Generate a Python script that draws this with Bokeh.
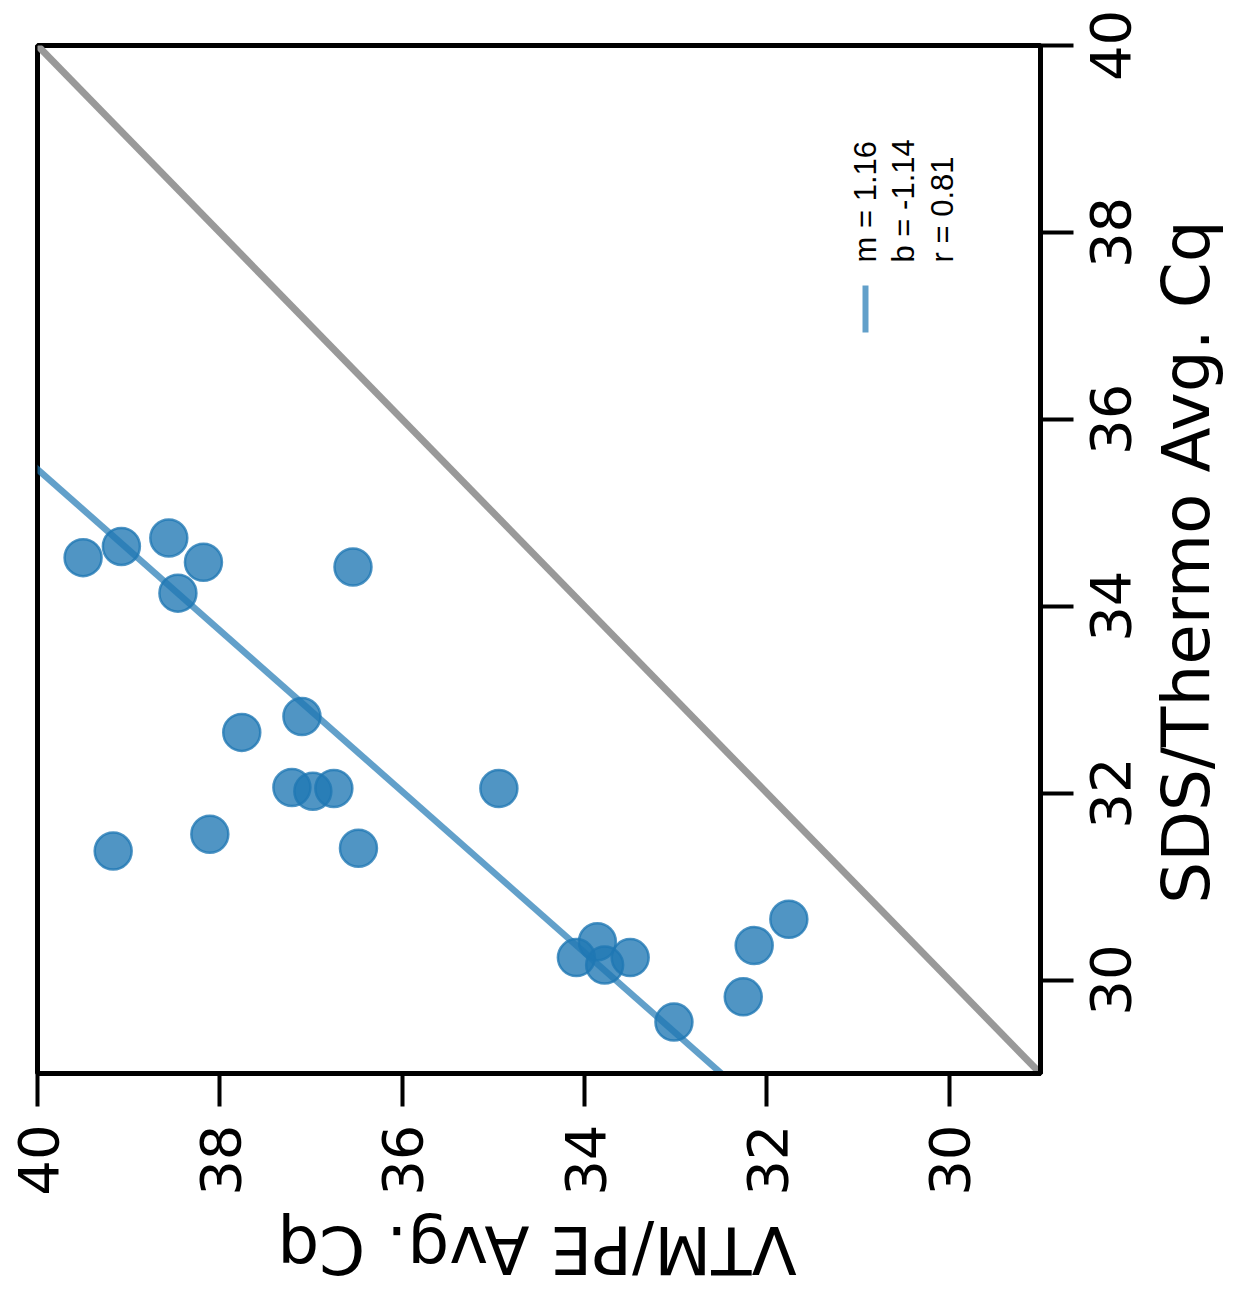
from math import pi
from bokeh.plotting import figure
from bokeh.models import Range1d, FixedTicker, Label, LinearAxis
from bokeh.embed import file_html
from bokeh.resources import INLINE

# ---- data ----
vtm_pe = [39.50, 39.08, 38.56, 38.18, 38.46, 36.54, 37.10, 37.76, 37.21, 36.98,
          36.75, 34.94, 38.11, 39.17, 36.48, 33.86, 34.09, 33.78, 33.50, 31.76,
          32.14, 32.26, 33.02]
sds_thermo = [34.52, 34.64, 34.73, 34.47, 34.14, 34.42, 32.82, 32.65, 32.06, 32.02,
              32.05, 32.05, 31.56, 31.38, 31.41, 30.41, 30.24, 30.16, 30.24, 30.65,
              30.37, 29.82, 29.55]
fit_m = 1.16
fit_b = -1.14
fit_r = 0.81
ticks = [30, 32, 34, 36, 38, 40]
tick_labels = [str(t) for t in ticks]
x_label = "VTM/PE Avg. Cq"
y_label = "SDS/Thermo Avg. Cq"
axis_min, axis_max = 29, 40

BLUE = "#1f77b4"
FONT = "DejaVu Sans"
TICK_FS = 56
TITLE_FS = 66

FRAME_L, FRAME_T, FRAME_W, FRAME_H = 37, 45, 1003, 1028

p = figure(frame_width=FRAME_W, frame_height=FRAME_H,
           x_range=Range1d(axis_max, axis_min), y_range=Range1d(axis_min, axis_max),
           y_axis_location="right", output_backend="svg", toolbar_location=None,
           min_border_left=FRAME_L, min_border_top=FRAME_T,
           min_border_right=1238 - FRAME_L - FRAME_W,
           min_border_bottom=1289 - FRAME_T - FRAME_H,
           background_fill_color="white", border_fill_color="white")
p.grid.visible = False
p.outline_line_color = "black"
p.outline_line_width = 5
p.outline_line_alpha = 1

sx = FRAME_W / (axis_max - axis_min)
sy = FRAME_H / (axis_max - axis_min)

def px_to_x(px):
    return axis_max - (px - FRAME_L) / sx

def py_to_y(py):
    return axis_max - (py - FRAME_T) / sy

# approximate DejaVu Sans advance widths (em) used to centre rotated texts
ADV = {"0": .636, "1": .636, "2": .636, "3": .636, "4": .636, "5": .636, "6": .636,
       "7": .636, "8": .636, "9": .636, "S": .635, "D": .770, "/": .337, "T": .611,
       "h": .634, "e": .615, "r": .411, "m": .974, "o": .612, " ": .318, "A": .684,
       "v": .592, "g": .635, ".": .318, "C": .698, "q": .635, "V": .684, "M": .863,
       "P": .603, "E": .632}

def text_len(s, fs):
    return sum(ADV.get(c, .6) for c in s) * fs

def style_axis(ax):
    ax.axis_line_width = 5
    ax.axis_line_color = "black"
    ax.major_tick_line_width = 4
    ax.major_tick_line_color = "black"
    ax.major_tick_in = 0
    ax.major_tick_out = 33
    ax.minor_tick_line_color = None
    ax.major_label_text_font = FONT
    ax.major_label_text_color = "black"

# ---- bottom: ticks + tick labels (reading bottom-to-top)
xa = p.xaxis[0]
style_axis(xa)
xa.ticker = FixedTicker(ticks=ticks)
xa.major_label_text_font_size = f"{TICK_FS}px"
xa.major_label_orientation = pi / 2
xa.major_label_standoff = 18

# ---- bottom title (upside down), carried by a label-only axis
x_anchor = round(px_to_x(FRAME_L + FRAME_W / 2 - text_len(x_label, TITLE_FS) / 2), 4)
xt = LinearAxis(ticker=FixedTicker(ticks=[x_anchor]),
                major_label_overrides={x_anchor: x_label},
                major_label_orientation=pi, major_label_standoff=51,
                major_tick_out=0, major_tick_in=0, major_tick_line_color=None,
                minor_tick_line_color=None, axis_line_color=None,
                major_label_text_font=FONT, major_label_text_font_size=f"{TITLE_FS}px",
                major_label_text_color="black")
p.add_layout(xt, "below")

# ---- right: tick marks on the main axis (as minor ticks, no labels)
ya = p.yaxis[0]
style_axis(ya)
ya.ticker = FixedTicker(ticks=[], minor_ticks=ticks)
ya.minor_tick_line_color = "black"
ya.minor_tick_line_width = 4
ya.minor_tick_in = 0
ya.minor_tick_out = 33
ya.major_label_standoff = 0

# right tick labels (reading bottom-to-top), shifted so that each is centred on its tick
half = text_len("40", TICK_FS) / 2 / sy
lab_pos = [round(t - half, 4) for t in ticks]
yl = LinearAxis(ticker=FixedTicker(ticks=lab_pos),
                major_label_overrides={lp: lab for lp, lab in zip(lab_pos, tick_labels)},
                major_label_orientation=pi / 2, major_label_standoff=37,
                major_tick_out=0, major_tick_in=0, major_tick_line_color=None,
                minor_tick_line_color=None, axis_line_color=None,
                major_label_text_font=FONT, major_label_text_font_size=f"{TICK_FS}px",
                major_label_text_color="black")
p.add_layout(yl, "right")

# right title
y_anchor = round(py_to_y(FRAME_T + FRAME_H / 2) - text_len(y_label, TITLE_FS) / 2 / sy, 4)
yt = LinearAxis(ticker=FixedTicker(ticks=[y_anchor]),
                major_label_overrides={y_anchor: y_label},
                major_label_orientation=pi / 2, major_label_standoff=33,
                major_tick_out=0, major_tick_in=0, major_tick_line_color=None,
                minor_tick_line_color=None, axis_line_color=None,
                major_label_text_font=FONT, major_label_text_font_size=f"{TITLE_FS}px",
                major_label_text_color="black")
p.add_layout(yt, "right")

# identity line
p.line([axis_min, axis_max], [axis_min, axis_max], line_color="#999999", line_width=7)

# points
p.scatter(vtm_pe, sds_thermo, size=37, fill_color=BLUE, fill_alpha=0.78,
          line_color=BLUE, line_alpha=0.78, line_width=2.5)

# regression line: VTM = m * SDS + b
s_ends = [axis_min - 1, axis_max + 1]
p.line([fit_m * s + fit_b for s in s_ends], s_ends, line_color=BLUE, line_alpha=0.7,
       line_width=6.5)

# legend (rotated)
p.line([px_to_x(865), px_to_x(865)], [py_to_y(285), py_to_y(332)],
       line_color=BLUE, line_alpha=0.7, line_width=6)
legend_lines = [f"m = {fit_m:.2f}", f"b = {fit_b:.2f}", f"r = {fit_r:.2f}"]
for txt, px in zip(legend_lines, [865, 903, 942]):
    p.add_layout(Label(x=px_to_x(px), y=py_to_y(262), text=txt, angle=pi / 2,
                       text_align="left", text_baseline="middle",
                       text_font="Liberation Sans", text_font_size="31px",
                       text_color="black"))

open("out.html", "w").write(file_html(p, INLINE))
